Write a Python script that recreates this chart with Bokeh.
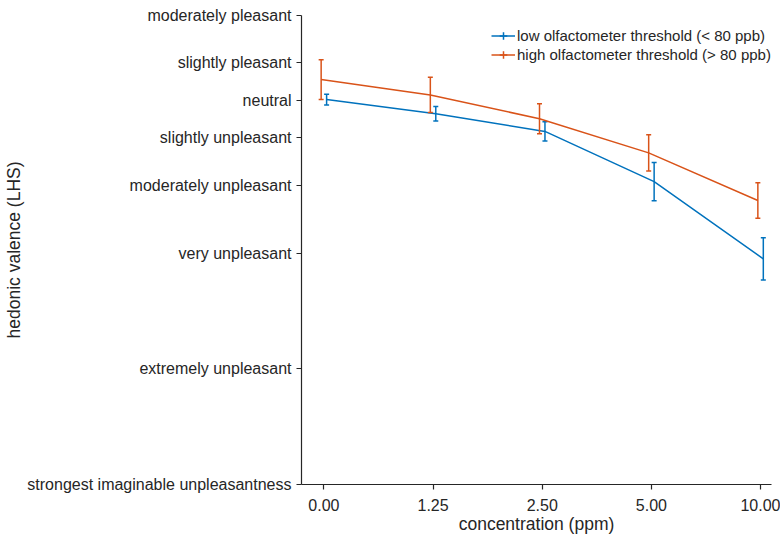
import numpy as np
from bokeh.plotting import figure
from bokeh.models import Range1d, FixedTicker, Legend, LegendItem, ColumnDataSource
from bokeh.embed import file_html
from bokeh.resources import INLINE

# concentrations (equally spaced categories on the x axis)
conc_labels = ["0.00", "1.25", "2.50", "5.00", "10.00"]

# labeled hedonic scale anchors (LHS units)
lhs_values = [22.2, 9.9, 0.0, -9.7, -22.2, -39.8, -69.9, -100.0]
lhs_labels = ["moderately pleasant", "slightly pleasant", "neutral",
              "slightly unpleasant", "moderately unpleasant", "very unpleasant",
              "extremely unpleasant", "strongest imaginable unpleasantness"]

# mean hedonic ratings and standard errors
low_mean = [0.3, -3.4, -8.0, -21.1, -41.2]
low_err = [1.4, 1.9, 2.5, 5.0, 5.5]
high_mean = [5.5, 1.5, -4.7, -13.6, -26.0]
high_err = [5.2, 4.6, 3.9, 4.7, 4.6]

BLUE = "#0072BD"
ORANGE = "#D95319"
TEXT = "#262626"
FONT = "Liberation Sans"

p = figure(width=780, height=537, output_backend="svg", toolbar_location=None,
           x_range=Range1d(-0.205, 4.1), y_range=Range1d(-100, 22.2),
           min_border_left=301, min_border_right=9, min_border_top=15,
           min_border_bottom=53)
p.outline_line_color = None
p.xgrid.visible = False
p.ygrid.visible = False

idx = np.arange(len(conc_labels))


def series(mean, err, color, offset):
    xs = idx + offset
    m = np.array(mean)
    e = np.array(err)
    src = ColumnDataSource(dict(x=xs, y=m, lo=m - e, hi=m + e))
    ln = p.line("x", "y", source=src, line_color=color, line_width=1.5)
    p.segment(x0="x", y0="lo", x1="x", y1="hi", source=src,
              line_color=color, line_width=1.5)
    p.scatter("x", "lo", source=src, marker="dash", size=5,
              line_color=color, line_width=1.5)
    p.scatter("x", "hi", source=src, marker="dash", size=5,
              line_color=color, line_width=1.5)
    # zero-size marker that only shows up as the legend's error-bar symbol
    mk = p.scatter("x", "y", source=src, marker="cross", size=0,
                   line_color=color, line_width=1.5)
    return ln, mk


low_line, low_mk = series(low_mean, low_err, BLUE, 0.025)
high_line, high_mk = series(high_mean, high_err, ORANGE, -0.025)

# axes
p.xaxis.ticker = FixedTicker(ticks=list(idx))
p.xaxis.major_label_overrides = {int(i): s for i, s in zip(idx, conc_labels)}
p.yaxis.ticker = FixedTicker(ticks=lhs_values)
p.yaxis.major_label_overrides = {v: s for v, s in zip(lhs_values, lhs_labels)}
p.xaxis.axis_label = "concentration (ppm)"
p.yaxis.axis_label = "hedonic valence (LHS)"

for ax in (p.xaxis[0], p.yaxis[0]):
    ax.axis_line_color = TEXT
    ax.axis_line_width = 1.2
    ax.major_tick_line_color = TEXT
    ax.major_tick_line_width = 1.2
    ax.major_tick_out = 5
    ax.major_tick_in = 0
    ax.minor_tick_line_color = None
    ax.major_label_text_font = FONT
    ax.major_label_text_font_size = "16px"
    ax.major_label_text_color = TEXT
    ax.axis_label_text_font = FONT
    ax.axis_label_text_font_size = "17.5px"
    ax.axis_label_text_font_style = "normal"
    ax.axis_label_text_color = TEXT
p.yaxis.major_label_standoff = 5
p.yaxis.axis_label_standoff = 0
p.xaxis.major_label_standoff = 9
p.xaxis.axis_label_standoff = 0

legend = Legend(items=[
    LegendItem(label="low olfactometer threshold (< 80 ppb)", renderers=[low_line, low_mk]),
    LegendItem(label="high olfactometer threshold (> 80 ppb)", renderers=[high_line, high_mk]),
], location=(190, 420))
legend.label_text_font = FONT
legend.label_text_font_size = "15px"
legend.label_text_color = TEXT
legend.border_line_color = None
legend.background_fill_alpha = 0
legend.padding = 5
legend.spacing = 0
legend.label_height = 19
legend.glyph_height = 19
legend.glyph_width = 24
legend.label_standoff = 2
p.add_layout(legend)

open("out.html", "w").write(file_html(p, INLINE))
